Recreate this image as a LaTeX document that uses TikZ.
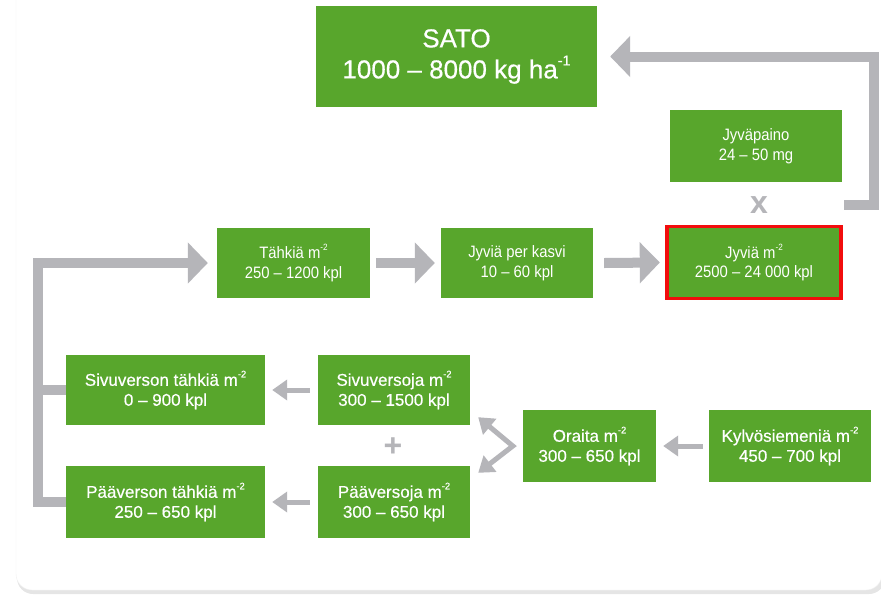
\documentclass[tikz,border=0pt]{standalone}
\usepackage{fontspec}
\setmainfont{Liberation Sans}
\newfontfamily\condfont[FakeStretch=0.9]{Liberation Sans}
\newfontfamily\medfont[FakeBold=0.5]{Liberation Sans}
\usepackage{xcolor}
\usetikzlibrary{arrows.meta, calc}

\definecolor{boxgreen}{HTML}{58A62C}
\definecolor{arrowgray}{HTML}{B5B5B9}
\definecolor{markred}{HTML}{F20D0D}

% small raised exponent
\newcommand{\expo}[1]{\raisebox{0.5em}{\scalebox{0.55}{#1}}}

\tikzset{
  greenbox/.style={fill=boxgreen, text=white, align=center, inner sep=0pt},
  lowbox/.style={greenbox, font=\medfont\fontsize{17}{20}\selectfont},
  midbox/.style={greenbox, font=\condfont\fontsize{16.5}{19.5}\selectfont},
  bigarrow/.style={draw=arrowgray, line width=10pt, -{Triangle[length=20pt, width=40pt]}},
  thinarrow/.style={draw=arrowgray, line width=5pt, -{Triangle[length=15pt, width=20pt]}},
  sign/.style={text=arrowgray, font=\bfseries\fontsize{32}{32}\selectfont},
}

\begin{document}
\begin{tikzpicture}[x=1pt, y=-1pt]
		\useasboundingbox (0,0) rectangle (881,598);
		
		% Card
		\fill[black!10, rounded corners=16pt] (17,-30) rectangle (885,594);
		\fill[white, draw=black!6, rounded corners=16pt] (16,-30) rectangle (882,590);
		
		% Yield and grain weight
		\node[greenbox, minimum width=281pt, minimum height=101pt, font=\medfont\fontsize{26}{31}\selectfont] (sato) at (456.5,56.5) {SATO\\1000 – 8000 kg ha\expo{-1}};
		\node[midbox, minimum width=172pt, minimum height=72pt] (paino) at (756,146) {Jyväpaino\\24 – 50 mg};
		
		% Middle row
		\node[midbox, minimum width=153pt, minimum height=70pt] (tahkia) at (293.5,263) {Tähkiä m\expo{-2}\\250 – 1200 kpl};
		\node[midbox, minimum width=152pt, minimum height=70pt] (kasvi) at (517,263) {Jyviä per kasvi\\10 – 60 kpl};
		\node[midbox, minimum width=174pt, minimum height=72pt] (jyvia) at (754,262.5) {Jyviä m\expo{-2}\\2500 – 24 000 kpl};
		\draw[markred, line width=3.5pt] (jyvia.south west) rectangle (jyvia.north east);
		
		% Lower rows
		\node[lowbox, minimum width=199pt, minimum height=70pt] (sivt) at (165.5,390) {Sivuverson tähkiä m\expo{-2}\\0 – 900 kpl};
		\node[lowbox, minimum width=152pt, minimum height=70pt] (sivv) at (394,390) {Sivuversoja m\expo{-2}\\300 – 1500 kpl};
		\node[lowbox, minimum width=199pt, minimum height=72pt] (paat) at (165.5,502) {Pääverson tähkiä m\expo{-2}\\250 – 650 kpl};
		\node[lowbox, minimum width=152pt, minimum height=72pt] (paav) at (394,502) {Pääversoja m\expo{-2}\\300 – 650 kpl};
		\node[lowbox, minimum width=133pt, minimum height=72pt] (oraita) at (589.5,446) {Oraita m\expo{-2}\\300 – 650 kpl};
		\node[lowbox, minimum width=162pt, minimum height=72pt] (kylvo) at (790,446) {Kylvösiemeniä m\expo{-2}\\450 – 700 kpl};
		
		% Signs
		\node[sign] (times) at (759,205) {x};
		\node[sign] (plus) at (393,447) {+};
		
		% Loop back to the yield
		\coordinate (wstart) at (844,205);
		\draw[bigarrow] (wstart) -- (874,205) |- ([xshift=13pt]sato.east);
		
		% Loop from the ears up to the middle row
		\draw[bigarrow] (paat.west) -- (38,502) |- ([xshift=-9pt]tahkia.west);
		\draw[draw=arrowgray, line width=10pt] (sivt.west) -- (38,390);
		
		% Middle row arrows
		\draw[bigarrow] ([xshift=6pt]tahkia.east) -- ([xshift=-6pt]kasvi.west);
		\draw[bigarrow] ([xshift=11pt]kasvi.east) -- ([xshift=-7pt]jyvia.west);
		
		% Lower arrows
		\draw[thinarrow] ([xshift=-8pt]sivv.west) -- ([xshift=7pt]sivt.east);
		\draw[thinarrow] ([xshift=-8pt]paav.west) -- ([xshift=7pt]paat.east);
		\draw[thinarrow] ([xshift=-6pt]kylvo.west) -- ([xshift=7pt]oraita.east);
		\draw[thinarrow, {Triangle[length=15pt, width=20pt]}-{Triangle[length=15pt, width=20pt]}] ([shift={(8,-8)}]sivv.south east) -- ([xshift=-10pt]oraita.west) -- ([shift={(8,7)}]paav.north east);
	\end{tikzpicture}
\end{document}
